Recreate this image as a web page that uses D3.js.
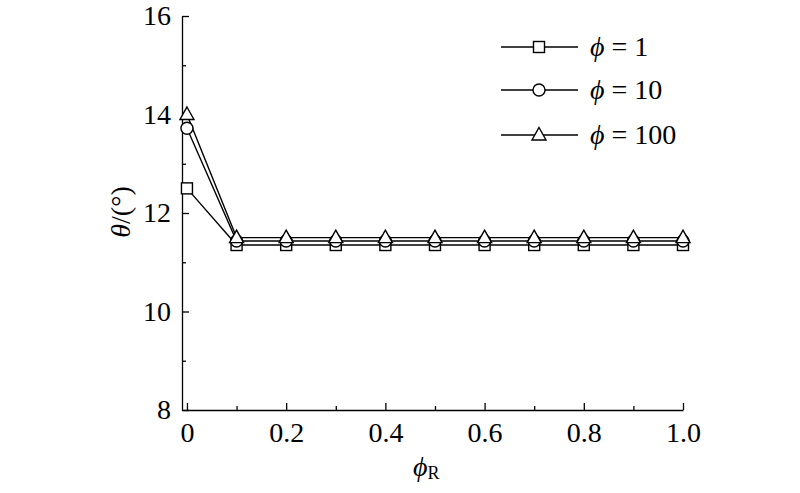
<!DOCTYPE html>
<html><head><meta charset="utf-8">
<script src="https://cdn.jsdelivr.net/npm/d3@7"></script>
<style>body{margin:0;background:#fff}</style>
</head><body><svg id="c" width="800" height="493"></svg>
<script>
const xValues = [0, 0.1, 0.2, 0.3, 0.4, 0.5, 0.6, 0.7, 0.8, 0.9, 1.0];
const phi1 = [12.5, 11.35, 11.35, 11.35, 11.35, 11.35, 11.35, 11.35, 11.35, 11.35, 11.35];
const phi10 = [13.72, 11.43, 11.43, 11.43, 11.43, 11.43, 11.43, 11.43, 11.43, 11.43, 11.43];
const phi100 = [14.0, 11.5, 11.5, 11.5, 11.5, 11.5, 11.5, 11.5, 11.5, 11.5, 11.5];
const seriesNames = ["1", "10", "100"];
const seriesMarkers = ["square", "circle", "triangle"];
const xTicks = [0, 0.2, 0.4, 0.6, 0.8, 1.0];
const xTickLabels = ["0", "0.2", "0.4", "0.6", "0.8", "1.0"];
const yTicks = [8, 10, 12, 14, 16];

const FONT = '"Liberation Serif", "Times New Roman", Times, serif';
const svg = d3.select("#c");
const x = d3.scaleLinear().domain([-0.01, 1.0]).range([182, 683]);
const y = d3.scaleLinear().domain([8, 16]).range([410, 16]);

const xAxis = d3.axisBottom(x).tickValues(xTicks).tickFormat((d,i)=>xTickLabels[i]).tickSizeInner(-7).tickSizeOuter(0).tickPadding(12);
svg.append("g").attr("transform","translate(0,410)").call(xAxis);
const xMinor = d3.axisBottom(x).tickValues([0.1,0.3,0.5,0.7,0.9]).tickFormat("").tickSizeInner(-4).tickSizeOuter(0);
svg.append("g").attr("transform","translate(0,410)").call(xMinor).select(".domain").remove();
const yAxis = d3.axisLeft(y).tickValues(yTicks).tickSizeInner(-7).tickSizeOuter(0).tickPadding(11);
svg.append("g").attr("transform","translate(182,0)").call(yAxis);
const yMinor = d3.axisLeft(y).tickValues([9,11,13,15]).tickFormat("").tickSizeInner(-4).tickSizeOuter(0);
svg.append("g").attr("transform","translate(182,0)").call(yMinor).select(".domain").remove();
svg.selectAll(".domain, .tick line").attr("stroke","#000").attr("stroke-width",1.3);
svg.selectAll(".tick text").attr("font-size",28).attr("fill","#000").style("font-family",FONT);

svg.append("text").attr("transform","translate(130,212) rotate(-90)").attr("text-anchor","middle")
  .attr("font-size",28).style("font-family",FONT)
  .html('<tspan font-style="italic">θ</tspan>/(°)');
svg.append("text").attr("x",413).attr("y",476).attr("font-size",28).style("font-family",FONT)
  .html('<tspan font-style="italic">ϕ</tspan><tspan font-size="18" dy="3">R</tspan>');

const allSeries = [phi1, phi10, phi100];
const line = d3.line().x((d,i)=>x(xValues[i])).y(d=>y(d));
allSeries.forEach(s=>{
  svg.append("path").attr("d",line(s)).attr("fill","none").attr("stroke","#000").attr("stroke-width",1.4);
});
function marker(g, type, cx, cy){
  if(type==="square") g.append("rect").attr("x",cx-5.5).attr("y",cy-5.5).attr("width",11).attr("height",11);
  else if(type==="circle") g.append("circle").attr("cx",cx).attr("cy",cy).attr("r",6);
  else g.append("path").attr("d",`M${cx},${cy-7.5}L${cx+7},${cy+5}L${cx-7},${cy+5}Z`);
}
allSeries.forEach((s,k)=>{
  const g = svg.append("g").attr("fill","#fff").attr("stroke","#000").attr("stroke-width",1.4);
  s.forEach((v,i)=>marker(g, seriesMarkers[k], x(xValues[i]), y(v)));
});

const legY = [47, 90, 135];
seriesNames.forEach((n,k)=>{
  const g = svg.append("g");
  g.append("line").attr("x1",501).attr("x2",578).attr("y1",legY[k]).attr("y2",legY[k]).attr("stroke","#000").attr("stroke-width",1.4);
  const mg = g.append("g").attr("fill","#fff").attr("stroke","#000").attr("stroke-width",1.4);
  marker(mg, seriesMarkers[k], 539, legY[k]);
  g.append("text").attr("x",590).attr("y",legY[k]+9).attr("font-size",28).style("font-family",FONT)
    .html(`<tspan font-style="italic">ϕ</tspan> = ${n}`);
});
</script></body></html>
